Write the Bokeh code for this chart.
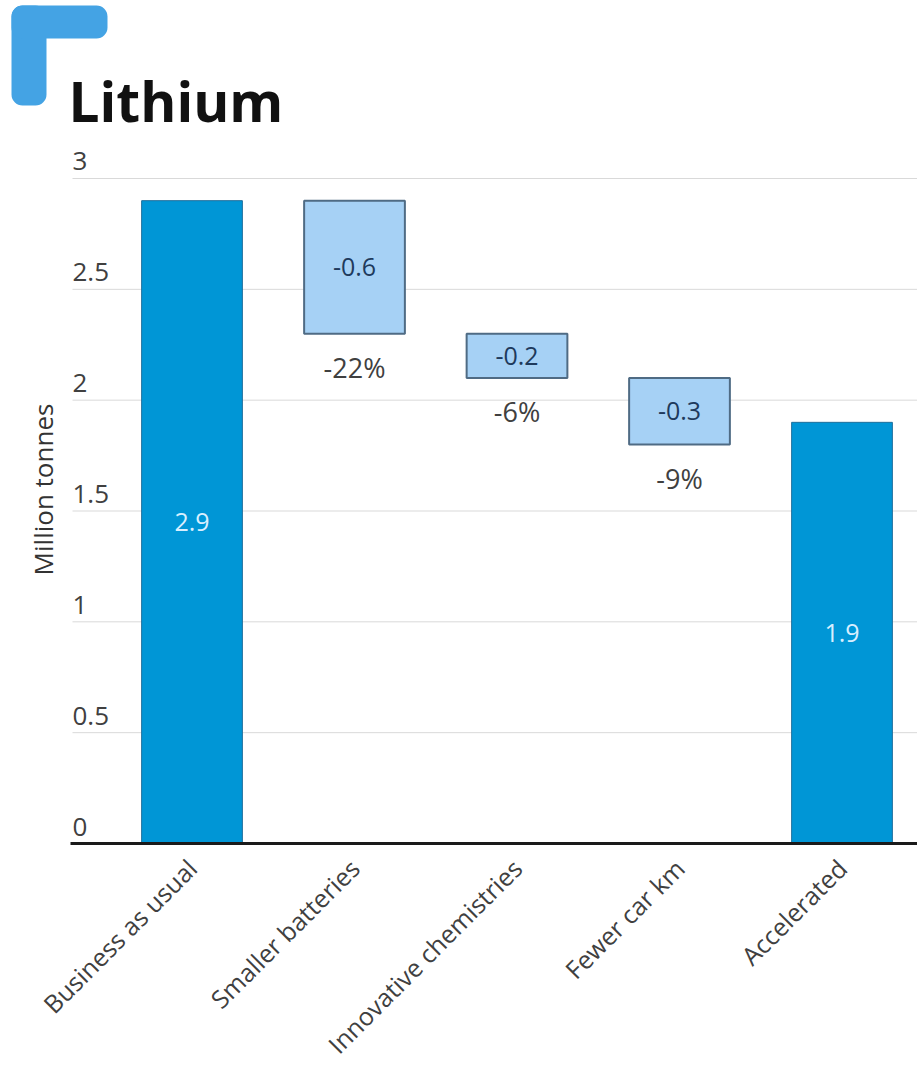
import math

from bokeh.core.properties import value
from bokeh.embed import file_html
from bokeh.models import ColumnDataSource, FixedTicker, Range1d
from bokeh.plotting import figure
from bokeh.resources import INLINE

# ---- data -------------------------------------------------------------
categories = ["Business as usual", "Smaller batteries", "Innovative chemistries",
              "Fewer car km", "Accelerated"]
start_total = 2.9          # million tonnes, business as usual
changes = [-0.6, -0.2, -0.3]
change_pct = ["-22%", "-6%", "-9%"]
end_total = 1.9            # million tonnes, accelerated scenario
y_ticks = [0, 0.5, 1, 1.5, 2, 2.5, 3]
y_tick_labels = ["0", "0.5", "1", "1.5", "2", "2.5", "3"]

FONT = "Open Sans"
TOTAL_BLUE = "#0096d6"
STEP_BLUE = "#a6d1f5"
LOGO_BLUE = "#44a3e4"
TEXT_GREY = "#404040"

# ---- derived waterfall geometry ---------------------------------------
x_pos = list(range(len(categories)))
upper, lower = [], []
level = start_total
for c in changes:
    upper.append(level)
    level = level + c
    lower.append(level)

totals = ColumnDataSource(dict(
    x=[x_pos[0], x_pos[-1]],
    top=[start_total, end_total],
    mid=[start_total / 2, end_total / 2],
    label=[f"{start_total:g}", f"{end_total:g}"],
))
steps = ColumnDataSource(dict(
    x=x_pos[1:-1],
    top=upper,
    bottom=lower,
    mid=[(a + b) / 2 for a, b in zip(upper, lower)],
    label=[f"{c:g}" for c in changes],
    pct=change_pct,
))

# ---- figure: the plotting frame spans the whole page above the x axis --
W, H = 917, 1081
FRAME_H = 845
p = figure(width=W, height=H,
           x_range=Range1d(-1.1785, 4.4646), y_range=Range1d(-0.009, 3.803),
           output_backend="svg", toolbar_location=None,
           min_border_left=0, min_border_right=0, min_border_top=0,
           min_border_bottom=H - FRAME_H, outline_line_color=None,
           background_fill_color="white")
# a pixel-like layout range for the header and the axis furniture
p.extra_x_ranges = {"px": Range1d(0, W)}
p.extra_y_ranges = {"px": Range1d(FRAME_H, 0)}

p.grid.visible = False
p.yaxis.visible = False

# header: corner mark and title
p.quad(left=[11, 11], right=[46, 107], top=[5, 5], bottom=[105, 38],
       x_range_name="px", y_range_name="px",
       fill_color=LOGO_BLUE, line_color=None, border_radius=11)
p.text(x=[68], y=[100], text=["Lithium"], x_range_name="px", y_range_name="px",
       text_font=value(FONT), text_font_style="bold", text_font_size="55px",
       text_color="#111111", text_baseline="alphabetic", text_align="left")

# horizontal grid lines and y tick labels sitting just above them
p.segment(x0=[72] * (len(y_ticks) - 1), x1=[W] * (len(y_ticks) - 1),
          y0=y_ticks[1:], y1=y_ticks[1:], x_range_name="px",
          line_color="#d9d9d9", line_width=1)
p.text(x=[72] * len(y_ticks), y=y_ticks, text=y_tick_labels, x_range_name="px",
       text_font=value(FONT), text_font_size="26px", text_color=TEXT_GREY,
       text_align="left", text_baseline="bottom", y_offset=-8)
p.text(x=[42], y=[489], text=["Million tonnes"], angle=math.pi / 2,
       x_range_name="px", y_range_name="px",
       text_font=value(FONT), text_font_size="26px", text_color="#333333",
       text_align="center", text_baseline="middle")

# category axis
p.xaxis.ticker = FixedTicker(ticks=x_pos)
p.xaxis.major_label_overrides = {i: name for i, name in zip(x_pos, categories)}
p.xaxis.major_label_orientation = math.pi / 4
p.xaxis.major_label_text_font = FONT
p.xaxis.major_label_text_font_size = "25px"
p.xaxis.major_label_text_color = TEXT_GREY
p.xaxis.major_label_standoff = 12
p.xaxis.axis_line_color = None
p.xaxis.major_tick_line_color = None
p.xaxis.minor_tick_line_color = None

# total bars
p.vbar(x="x", top="top", bottom=0, width=0.62, source=totals,
       fill_color=TOTAL_BLUE, line_color="#1f6f9c", line_width=1)
p.text(x="x", y="mid", text="label", source=totals, text_font=value(FONT),
       text_font_size="25px", text_color="#d8efff",
       text_align="center", text_baseline="middle")

# floating change bars
p.vbar(x="x", top="top", bottom="bottom", width=0.62, source=steps,
       fill_color=STEP_BLUE, line_color="#4f6b84", line_width=2)
p.text(x="x", y="mid", text="label", source=steps, text_font=value(FONT),
       text_font_size="25px", text_color="#1e3a5c",
       text_align="center", text_baseline="middle")
p.text(x="x", y="bottom", text="pct", source=steps, text_font=value(FONT),
       text_font_size="27px", text_color=TEXT_GREY,
       text_align="center", text_baseline="top", y_offset=15)

# baseline at zero
p.segment(x0=[70], x1=[W], y0=[0], y1=[0], x_range_name="px",
          line_color="#1a1a1a", line_width=3)

open("out.html", "w").write(file_html(p, INLINE))
